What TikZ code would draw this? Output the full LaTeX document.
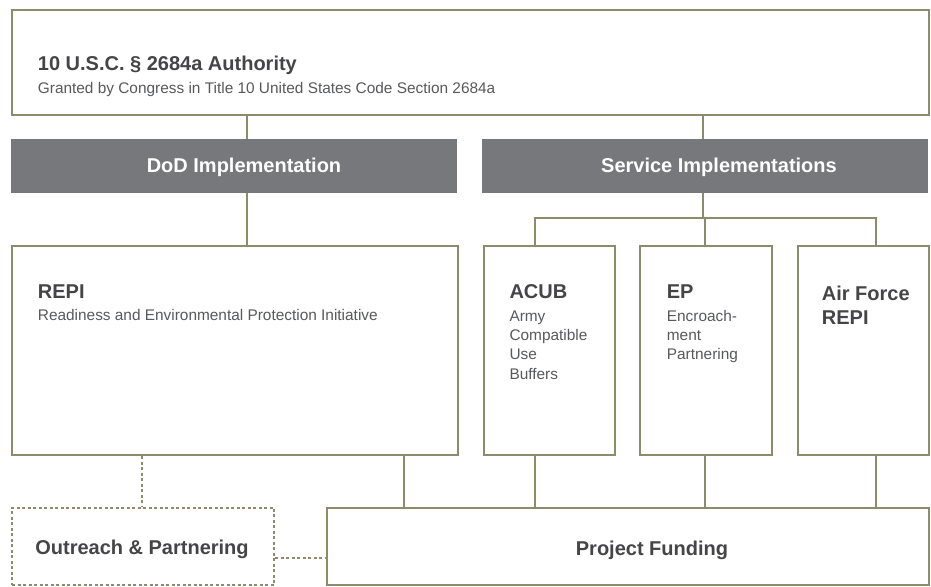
\documentclass[tikz,border=0pt]{standalone}
\usepackage{fontspec}
\setmainfont{Liberation Sans}
\usetikzlibrary{calc}
\definecolor{olive}{HTML}{8A8C6C}
\definecolor{hdrgray}{HTML}{77787B}
\definecolor{txtdark}{HTML}{454547}
\definecolor{txtsub}{HTML}{58595B}
\newcommand\ttlfont{\fontsize{20}{24}\selectfont\bfseries\color{txtdark}}
\newcommand\subfont{\fontsize{15.4}{19.3}\selectfont\mdseries\color{txtsub}}
\tikzset{
  box/.style={draw=olive, line width=2pt, fill=white, anchor=north west, inner sep=0pt},
  hdr/.style={fill=hdrgray, anchor=north west, inner sep=0pt},
  dbox/.style={draw=olive, line width=2pt, dash pattern=on 3pt off 2.5pt, anchor=north west, inner sep=0pt},
  link/.style={draw=olive, line width=2pt},
  dlink/.style={link, dash pattern=on 3pt off 2.5pt},
  lbl/.style={anchor=base west, inner sep=0pt},
  ctr/.style={anchor=base, inner sep=0pt, font=\fontsize{20}{24}\selectfont\bfseries},
}
\begin{document}
\begin{tikzpicture}[x=1pt,y=-1pt]
\useasboundingbox (0,0) rectangle (931,586);
% boxes
\node[box, minimum width=917pt, minimum height=105pt] (top) at (11,9) {};
\node[hdr, minimum width=446pt, minimum height=54pt] (dod) at (11,139) {};
\node[hdr, minimum width=446pt, minimum height=54pt] (svc) at (482,139) {};
\node[box, minimum width=446pt, minimum height=209pt] (repi) at (11,245) {};
\node[box, minimum width=131pt, minimum height=209pt] (acub) at (482.5,245) {};
\node[box, minimum width=131.5pt, minimum height=209pt] (ep) at (639.3,245) {};
\node[box, minimum width=131pt, minimum height=209pt] (af) at (797,245) {};
\node[dbox, minimum width=262pt, minimum height=77.5pt] (out) at (11,506.7) {};
\node[box, minimum width=602.5pt, minimum height=77.5pt] (fund) at (325.5,506.7) {};
% texts
\node[lbl] (toptxt) at (37.7,56) {\parbox[t]{800pt}{\setlength\parskip{0pt}\ttlfont 10 U.S.C. \S{} 2684a Authority\par\vspace{3.7pt}\subfont Granted by Congress in Title 10 United States Code Section 2684a}};
\node[ctr, text=white] (dodtxt) at (244,172.3) {DoD Implementation};
\node[ctr, text=white] (svctxt) at (719,172.3) {Service Implementations};
\node[lbl] (repitxt) at (37.7,285) {\parbox[t]{400pt}{\setlength\parskip{0pt}\ttlfont REPI\par\vspace{2.4pt}\subfont Readiness and Environmental Protection Initiative}};
\node[lbl] (acubtxt) at (509.3,285) {\parbox[t]{100pt}{\setlength\parskip{0pt}\raggedright\ttlfont ACUB\par\vspace{3pt}\subfont Army\\Compatible\\Use\\Buffers}};
\node[lbl] (eptxt) at (666.7,285) {\parbox[t]{100pt}{\setlength\parskip{0pt}\raggedright\ttlfont EP\par\vspace{3pt}\subfont Encroach-\\ment\\Partnering}};
\node[lbl] (aftxt) at (821.7,285.7) {\parbox[t]{100pt}{\setlength\parskip{0pt}\raggedright\ttlfont Air Force\\REPI}};
\node[ctr, text=txtdark] (outtxt) at (142,554) {Outreach \& Partnering};
\node[ctr, text=txtdark] (fundtxt) at (652,555) {Project Funding};
% connector positions
\coordinate (xa) at (247,0);
\coordinate (xb) at (703,0);
\coordinate (xc) at (535,0);
\coordinate (xd) at (705,0);
\coordinate (xe) at (876,0);
\coordinate (xf) at (404,0);
\coordinate (xg) at (142,0);
\coordinate (br) at (703,218);
\coordinate (yo) at (0,558);
% connectors
\draw[link] (top.south -| xa) -- (dod.north -| xa);
\draw[link] (top.south -| xb) -- (svc.north -| xb);
\draw[link] (dod.south -| xa) -- (repi.north -| xa);
\draw[link] (svc.south -| br) -- (br);
\draw[link] (acub.north -| xc) |- (br) -| (af.north -| xe);
\draw[link] (br -| xd) -- (ep.north -| xd);
\draw[link] (repi.south -| xf) -- (fund.north -| xf);
\draw[link] (acub.south -| xc) -- (fund.north -| xc);
\draw[link] (ep.south -| xd) -- (fund.north -| xd);
\draw[link] (af.south -| xe) -- (fund.north -| xe);
\draw[dlink] (repi.south -| xg) -- (out.north -| xg);
\draw[dlink] (out.east |- yo) -- (fund.west |- yo);
\end{tikzpicture}
\end{document}
